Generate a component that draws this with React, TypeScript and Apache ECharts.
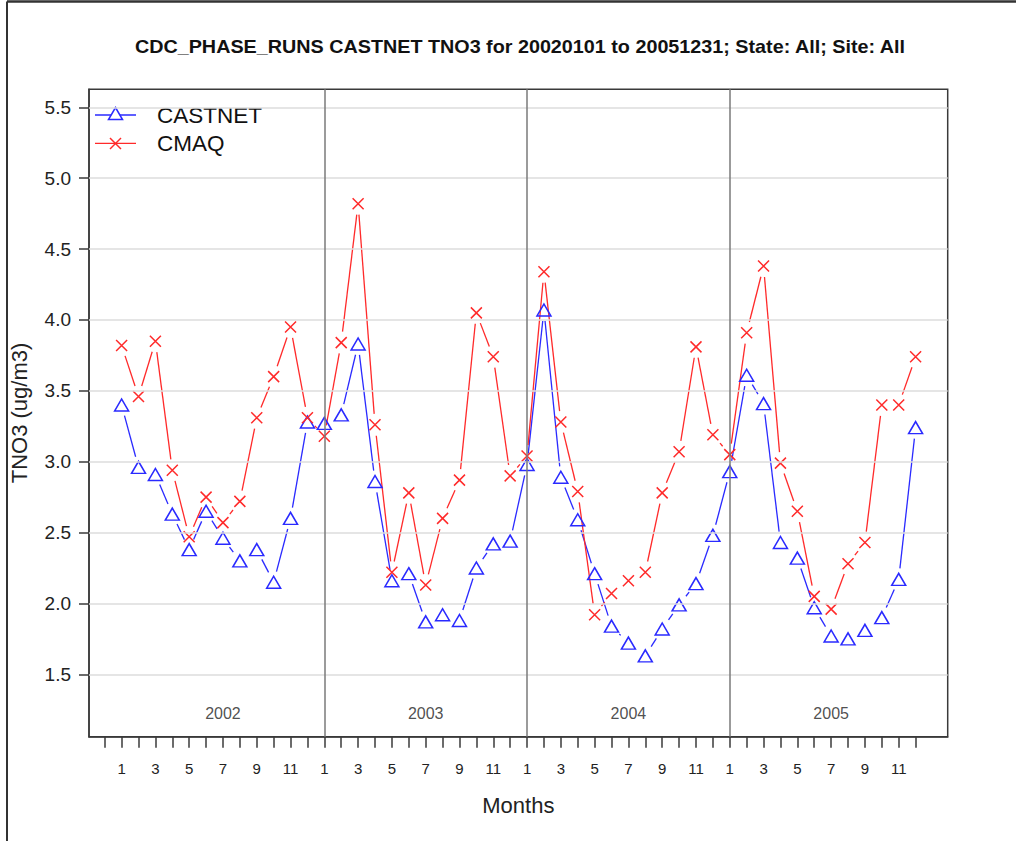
import { useEffect, useRef } from "react";
import * as echarts from "echarts";

// Monthly mean TNO3 (ug/m3), Jan 2002 .. Dec 2005
const years = ["2002", "2003", "2004", "2005"];
const MONTHS_PER_YEAR = 12;

const castnet2002 = [3.40, 2.96, 2.91, 2.63, 2.38, 2.65, 2.46, 2.30, 2.38, 2.15, 2.60, 3.28];
const castnet2003 = [3.27, 3.33, 3.83, 2.86, 2.16, 2.21, 1.87, 1.92, 1.88, 2.25, 2.42, 2.44];
const castnet2004 = [2.98, 4.07, 2.89, 2.59, 2.21, 1.84, 1.72, 1.63, 1.82, 1.99, 2.14, 2.48];
const castnet2005 = [2.93, 3.61, 3.41, 2.43, 2.32, 1.97, 1.77, 1.75, 1.81, 1.90, 2.17, 3.24];

const cmaq2002 = [3.82, 3.46, 3.85, 2.94, 2.47, 2.75, 2.57, 2.72, 3.31, 3.60, 3.95, 3.31];
const cmaq2003 = [3.18, 3.84, 4.82, 3.26, 2.22, 2.78, 2.13, 2.60, 2.87, 4.05, 3.74, 2.90];
const cmaq2004 = [3.04, 4.34, 3.28, 2.79, 1.92, 2.07, 2.16, 2.22, 2.78, 3.07, 3.81, 3.19];
const cmaq2005 = [3.05, 3.91, 4.38, 2.99, 2.65, 2.05, 1.96, 2.28, 2.43, 3.40, 3.40, 3.74];

const yTickValues = [1.5, 2.0, 2.5, 3.0, 3.5, 4.0, 4.5, 5.0, 5.5];

const castnet = [...castnet2002, ...castnet2003, ...castnet2004, ...castnet2005];
const cmaq = [...cmaq2002, ...cmaq2003, ...cmaq2004, ...cmaq2005];

const TITLE = "CDC_PHASE_RUNS CASTNET TNO3 for 20020101 to 20051231; State: All; Site: All";

const BLUE = "#2a2aff";
const RED = "#ff2a2a";
const AXIS = "#3a3a3a";
const FONT = "'Liberation Sans', Arial, Helvetica, sans-serif";

// axis extents (month index, value)
const X_MIN = -1.93;
const X_MAX = 48.9;
const Y_MIN = 1.06;
const Y_MAX = 5.627;
const YEAR_LABEL_Y = 1.227;
const GAP = 11; // px left open around each point, as in an R type="b" plot

const CROSS = "path://M0,0L10,10M10,0L0,10";

function segmentsOf(values: number[]) {
  const segs: number[][] = [];
  for (let i = 0; i < values.length - 1; i++) {
    segs.push([i, values[i], i + 1, values[i + 1]]);
  }
  return segs;
}

function gappedLine(color: string) {
  return (params: any, api: any) => {
    const p0 = api.coord([api.value(0), api.value(1)]);
    const p1 = api.coord([api.value(2), api.value(3)]);
    const dx = p1[0] - p0[0];
    const dy = p1[1] - p0[1];
    const len = Math.sqrt(dx * dx + dy * dy);
    if (len <= 2 * GAP + 1) return null;
    const ux = dx / len;
    const uy = dy / len;
    return {
      type: "line",
      shape: {
        x1: p0[0] + ux * GAP,
        y1: p0[1] + uy * GAP,
        x2: p1[0] - ux * GAP,
        y2: p1[1] - uy * GAP,
      },
      style: { stroke: color, lineWidth: 1.3 },
    };
  };
}

export default function App() {
  const ref = useRef<HTMLDivElement>(null);

  useEffect(() => {
    if (!ref.current) return;
    const chart = echarts.init(ref.current, undefined, { renderer: "svg" });

    const n = castnet.length;
    const xTicks: number[] = [];
    for (let i = -1; i < n; i++) xTicks.push(i);
    const xLabels: number[] = [];
    for (let i = 0; i < n; i += 2) xLabels.push(i);
    const boundaries = years.slice(1).map((_, k) => (k + 1) * MONTHS_PER_YEAR);

    const option: any = {
      animation: false,
      backgroundColor: "#ffffff",
      textStyle: { fontFamily: FONT },
      grid: {
        left: 88.7,
        top: 89.3,
        width: 859,
        height: 647.4,
        show: true,
        borderColor: AXIS,
        borderWidth: 1.5,
        backgroundColor: "transparent",
      },
      xAxis: {
        type: "value",
        min: X_MIN,
        max: X_MAX,
        axisLine: { show: true, onZero: false, lineStyle: { color: AXIS, width: 1.5 } },
        axisTick: {
          show: true,
          customValues: xTicks,
          length: 11,
          lineStyle: { color: AXIS, width: 1.5 },
        },
        axisLabel: {
          customValues: xLabels,
          formatter: (v: number) => String((Math.round(v) % MONTHS_PER_YEAR) + 1),
          fontSize: 15,
          color: "#222",
          margin: 24,
          fontFamily: FONT,
        },
        splitLine: { show: false },
        name: "Months",
        nameLocation: "middle",
        nameGap: 58,
        nameTextStyle: { fontSize: 22, color: "#222", fontFamily: FONT },
      },
      yAxis: {
        type: "value",
        min: Y_MIN,
        max: Y_MAX,
        axisLine: { show: true, onZero: false, lineStyle: { color: AXIS, width: 1.5 } },
        axisTick: {
          show: true,
          customValues: yTickValues,
          length: 10,
          lineStyle: { color: AXIS, width: 1.5 },
        },
        axisLabel: {
          customValues: yTickValues,
          formatter: (v: number) => v.toFixed(1),
          fontSize: 19,
          color: "#222",
          margin: 18,
          fontFamily: FONT,
        },
        splitLine: { show: false },
        name: "TNO3 (ug/m3)",
        nameLocation: "middle",
        nameGap: 59,
        nameTextStyle: { fontSize: 22, color: "#222", fontFamily: FONT },
      },
      series: [
        {
          // year captions, plus the grid and year-boundary rules
          type: "scatter",
          name: "years",
          silent: true,
          z: 1,
          symbolSize: 1,
          itemStyle: { color: "rgba(0,0,0,0)" },
          data: years.map((_, k) => [k * MONTHS_PER_YEAR + 6, YEAR_LABEL_Y]),
          label: {
            show: true,
            position: "inside",
            formatter: (p: any) => years[p.dataIndex],
            fontSize: 16,
            color: "#222",
            fontFamily: FONT,
          },
          markLine: {
            silent: true,
            symbol: ["none", "none"],
            label: { show: false },
            animation: false,
            data: [
              ...yTickValues.map((v) => ({
                yAxis: v,
                lineStyle: { color: "#dcdcdc", width: 1.5, type: "solid" },
              })),
              ...boundaries.map((x) => ({
                xAxis: x,
                lineStyle: { color: "#7a7a7a", width: 1.5, type: "solid" },
              })),
            ],
          },
        },
        {
          type: "custom",
          name: "CASTNET",
          z: 3,
          silent: true,
          clip: true,
          renderItem: gappedLine(BLUE),
          encode: { x: [0, 2], y: [1, 3] },
          data: segmentsOf(castnet),
        },
        {
          type: "custom",
          name: "CMAQ",
          z: 3,
          silent: true,
          clip: true,
          renderItem: gappedLine(RED),
          encode: { x: [0, 2], y: [1, 3] },
          data: segmentsOf(cmaq),
        },
        {
          type: "scatter",
          name: "CASTNET",
          z: 4,
          symbol: "triangle",
          symbolSize: [14, 12],
          itemStyle: { color: "rgba(0,0,0,0)", borderColor: BLUE, borderWidth: 1.5, opacity: 1 },
          data: castnet.map((v, i) => [i, v]),
        },
        {
          type: "scatter",
          name: "CMAQ",
          z: 4,
          symbol: CROSS,
          symbolSize: 11,
          itemStyle: { color: "rgba(0,0,0,0)", borderColor: RED, borderWidth: 1.5, opacity: 1 },
          data: cmaq.map((v, i) => [i, v]),
        },
      ],
      graphic: [
        // page frame
        { type: "line", shape: { x1: 7, y1: 1.5, x2: 1016, y2: 1.5 }, style: { stroke: "#333", lineWidth: 2.5 } },
        { type: "line", shape: { x1: 7, y1: 1.5, x2: 7, y2: 841 }, style: { stroke: "#333", lineWidth: 2 } },
        {
          type: "text",
          x: 520,
          y: 46,
          scaleX: 1.04,
          style: {
            text: TITLE,
            fill: "#111",
            font: `bold 19px ${FONT}`,
            textAlign: "center",
            textVerticalAlign: "middle",
          },
        },
        // legend
        { type: "line", shape: { x1: 95, y1: 115, x2: 136, y2: 115 }, style: { stroke: BLUE, lineWidth: 1.3 } },
        {
          type: "polygon",
          shape: { points: [[115.5, 107.5], [122.5, 119.5], [108.5, 119.5]] },
          style: { fill: "#fff", stroke: BLUE, lineWidth: 1.5 },
        },
        {
          type: "text",
          x: 157,
          y: 115,
          style: { text: "CASTNET", fill: "#111", font: `22.5px ${FONT}`, textVerticalAlign: "middle" },
        },
        { type: "line", shape: { x1: 95, y1: 143.3, x2: 136, y2: 143.3 }, style: { stroke: RED, lineWidth: 1.3 } },
        { type: "line", shape: { x1: 110, y1: 138, x2: 121, y2: 149 }, style: { stroke: RED, lineWidth: 1.5 } },
        { type: "line", shape: { x1: 121, y1: 138, x2: 110, y2: 149 }, style: { stroke: RED, lineWidth: 1.5 } },
        {
          type: "text",
          x: 157,
          y: 143.3,
          style: { text: "CMAQ", fill: "#111", font: `22.5px ${FONT}`, textVerticalAlign: "middle" },
        },
      ],
    };

    chart.setOption(option);
    return () => chart.dispose();
  }, []);

  return (
    <div
      ref={ref}
      style={{ position: "absolute", left: 0, top: 0, width: 1016, height: 841, background: "#fff" }}
    />
  );
}
